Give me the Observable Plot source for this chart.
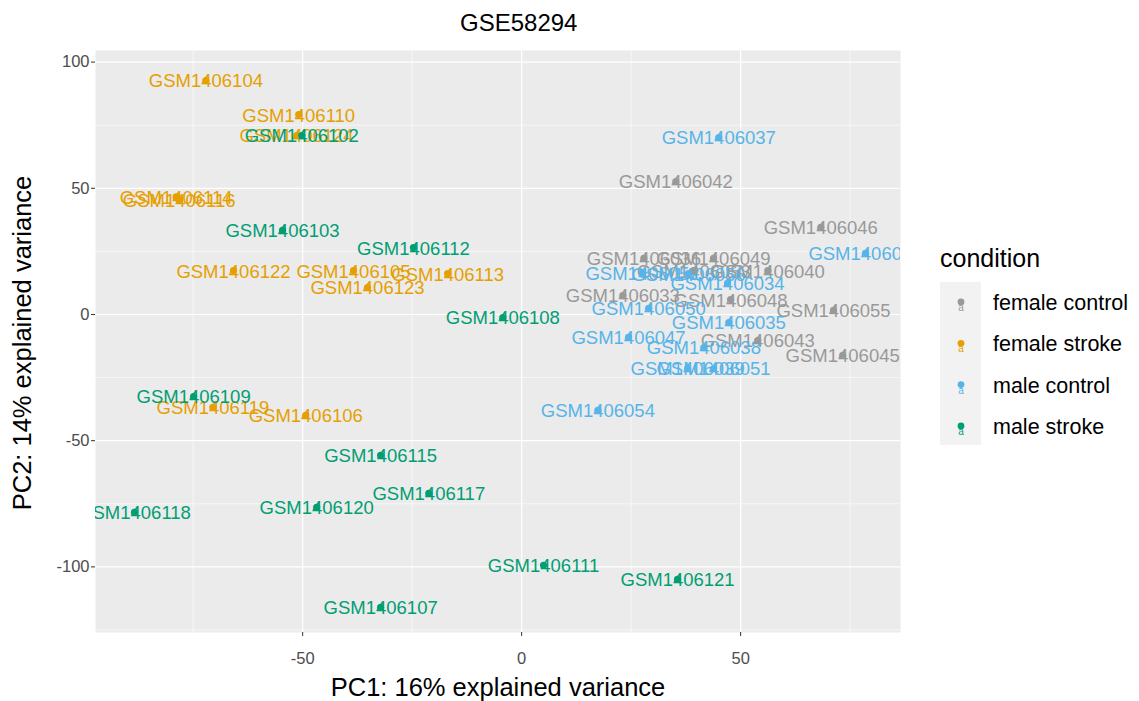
<!DOCTYPE html>
<html><head><meta charset="utf-8">
<script src="https://cdn.jsdelivr.net/npm/d3@7"></script>
<script src="https://cdn.jsdelivr.net/npm/@observablehq/plot@0.6"></script>
<style>
body{margin:0;background:#fff;font-family:"Liberation Sans",Arial,sans-serif}
#wrap{position:relative;width:1139px;height:701px;overflow:hidden}
#wrap > svg{position:absolute;left:0;top:0}
.ov{position:absolute;white-space:nowrap;color:#000}
</style></head><body>
<div id="wrap"></div>
<script>
// ---- data ----
const samples = [
  "GSM1406036","GSM1406049","GSM1406053","GSM1406040","GSM1406042","GSM1406046","GSM1406033","GSM1406048","GSM1406055","GSM1406043","GSM1406045",
  "GSM1406037","GSM1406044","GSM1406052","GSM1406056","GSM1406034","GSM1406050","GSM1406035","GSM1406047","GSM1406038","GSM1406054","GSM1406039","GSM1406051",
  "GSM1406104","GSM1406110","GSM1406124","GSM1406114","GSM1406116","GSM1406122","GSM1406105","GSM1406123","GSM1406113","GSM1406119","GSM1406106",
  "GSM1406102","GSM1406103","GSM1406112","GSM1406108","GSM1406109","GSM1406115","GSM1406117","GSM1406118","GSM1406120","GSM1406111","GSM1406121","GSM1406107"
];
const pc1 = [
  27.9, 43.8, 39.3, 56.2, 35.2, 68.3, 23.1, 47.7, 71.2, 53.9, 73.3,
  45.0, 78.5, 27.6, 38.1, 47.0, 29.0, 47.3, 24.4, 41.6, 17.4, 37.9, 43.8,
  -72.1, -50.9, -51.4, -78.9, -78.2, -65.8, -38.4, -35.2, -16.9, -70.5, -49.3,
  -50.2, -54.6, -24.7, -4.3, -74.9, -32.2, -21.2, -88.4, -46.8, 5.0, 35.6, -32.2
];
const pc2 = [
  22.2, 22.2, 17.4, 17.4, 52.7, 34.5, 7.5, 5.9, 1.6, -10.3, -16.2,
  70.1, 24.2, 16.6, 16.2, 12.3, 2.4, -3.2, -9.1, -13.1, -38.0, -21.4, -21.4,
  92.7, 79.2, 70.9, 46.6, 45.5, 17.4, 17.4, 10.7, 16.2, -36.8, -40.0,
  70.9, 33.3, 26.5, -1.2, -32.5, -55.8, -70.9, -78.4, -76.4, -99.4, -104.9, -116.0
];
const condition = [
  ...Array(11).fill("female control"),
  ...Array(12).fill("male control"),
  ...Array(11).fill("female stroke"),
  ...Array(12).fill("male stroke")
];
const conditions = ["female control","female stroke","male control","male stroke"];
const colors = ["#999999","#E69F00","#56B4E9","#009E73"];
const xMajor = [-50, 0, 50];
const xMinor = [-75, -25, 25, 75];
const yMajor = [-100, -50, 0, 50, 100];
const yMinor = [-125, -75, -25, 25, 75];
const title = "GSE58294";
const xTitle = "PC1: 16% explained variance";
const yTitle = "PC2: 14% explained variance";
const legendTitle = "condition";

const data = samples.map((s, i) => ({sample: s, pc1: pc1[i], pc2: pc2[i], condition: condition[i]}));
const font = "Liberation Sans, Arial, sans-serif";

const chart = Plot.plot({
  width: 1139, height: 701,
  marginLeft: 95, marginRight: 239, marginTop: 50, marginBottom: 69,
  x: {domain: [-97.3, 86.5]},
  y: {domain: [-126, 104.6]},
  color: {domain: conditions, range: colors},
  style: {fontFamily: font, background: "transparent"},
  marks: [
    Plot.frame({fill: "#EBEBEB", stroke: null}),
    Plot.ruleX(xMinor, {stroke: "#FFFFFF", strokeWidth: 0.6}),
    Plot.ruleY(yMinor, {stroke: "#FFFFFF", strokeWidth: 0.6}),
    Plot.ruleX(xMajor, {stroke: "#FFFFFF", strokeWidth: 1.2}),
    Plot.ruleY(yMajor, {stroke: "#FFFFFF", strokeWidth: 1.2}),
    Plot.axisX(xMajor, {tickSize: 4, tickPadding: 16, fontSize: 16.5, fill: "#4D4D4D", stroke: "#333333", label: null, tickFormat: d => String(d)}),
    Plot.axisY(yMajor, {tickSize: 4, tickPadding: 2, fontSize: 16.5, fill: "#4D4D4D", stroke: "#333333", label: null, tickFormat: d => String(d)}),
    Plot.text(data, {x: "pc1", y: "pc2", text: "sample", fill: "condition", fontSize: 18.5, dy: 1, clip: true}),
    Plot.dot(data, {x: "pc1", y: "pc2", fill: "condition", r: 3.6, clip: true})
  ]
});
const wrap = document.getElementById("wrap");
wrap.appendChild(chart);

function ov(text, css) {
  const d = document.createElement("div");
  d.className = "ov";
  d.textContent = text;
  d.style.cssText += css;
  wrap.appendChild(d);
  return d;
}
ov(title, "left:460px;top:9px;font-size:24px;");
ov(xTitle, "left:498px;top:687px;font-size:25.5px;transform:translate(-50%,-50%);");
ov(yTitle, "left:22px;top:343px;font-size:25.5px;transform:translate(-50%,-50%) rotate(-90deg);");

// legend
const lg = d3.select(wrap).append("svg")
  .attr("width", 204).attr("height", 240)
  .style("position", "absolute").style("left", "935px").style("top", "235px")
  .style("font-family", font);
lg.append("text").attr("x", 5).attr("y", 32).attr("font-size", 25).attr("fill", "#000").text(legendTitle);
lg.append("rect").attr("x", 5).attr("y", 47).attr("width", 41).attr("height", 163).attr("fill", "#F2F2F2");
conditions.forEach((c, i) => {
  const cy = 68 + i * 41.3;
  lg.append("text").attr("x", 26).attr("y", cy + 8).attr("font-size", 10).attr("text-anchor", "middle").attr("fill", colors[i]).text("a");
  lg.append("circle").attr("cx", 26).attr("cy", cy - 1).attr("r", 3.4).attr("fill", colors[i]);
  lg.append("text").attr("x", 58).attr("y", cy + 7).attr("font-size", 21.5).attr("fill", "#000").text(c);
});
</script>
</body></html>
